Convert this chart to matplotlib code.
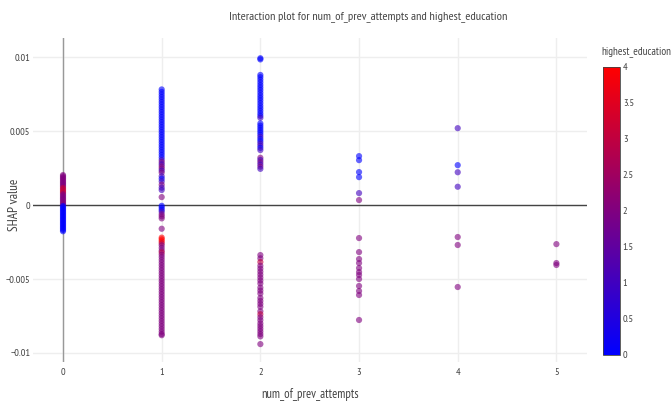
import matplotlib
matplotlib.use("Agg")
import matplotlib.pyplot as plt
from matplotlib.colors import LinearSegmentedColormap
import numpy as np

plt.rcParams['font.family'] = ['PT Sans Narrow', 'DejaVu Sans']

# SHAP values and highest_education per num_of_prev_attempts column
col0_shap = [0.00203, 0.00195, 0.00186, 0.00178, 0.00169, 0.00160, 0.00151, 0.00143, 0.00134,
             0.00125, 0.00116, 0.00108, 0.00099, 0.00090, 0.00082, 0.00073, 0.00064, 0.00055,
             0.00046, 0.00038, 0.00029, 0.00020, 0.00011, 0.00003,
             -0.00006, -0.00015, -0.00024, -0.00033, -0.00042, -0.00051, -0.00060, -0.00069,
             -0.00078, -0.00087, -0.00096, -0.00105, -0.00114, -0.00123, -0.00132, -0.00141,
             -0.00150, -0.00159, -0.00168, -0.00177]
col0_edu = [2, 2, 2, 2, 2, 2, 2, 2, 2,
            2, 3, 3, 3, 3, 3, 2, 2, 2,
            2, 2, 2, 2, 2, 2,
            0, 0, 0, 0, 0, 0, 0, 0,
            0, 0, 0, 0, 0, 0, 0, 0,
            0, 0, 0, 0]

col1_shap = [0.00782, 0.00765, 0.00748, 0.00731, 0.00714, 0.00697, 0.00680, 0.00663, 0.00646,
             0.00629, 0.00612, 0.00595, 0.00578, 0.00561, 0.00544, 0.00527, 0.00510, 0.00493,
             0.00476, 0.00459, 0.00442, 0.00425, 0.00408, 0.00391, 0.00374, 0.00357, 0.00340,
             0.00322, 0.00305, 0.00290, 0.00276, 0.00262, 0.00248, 0.00234, 0.00220,
             0.00195, 0.00178, 0.00160, 0.00138, 0.00118, 0.00102, 0.00054,
             -0.00005, -0.00018, -0.00032, -0.00045, -0.00062, -0.00076, -0.00090, -0.00160,
             -0.00220, -0.00232, -0.00245, -0.00258, -0.00272, -0.00290, -0.00308, -0.00320,
             -0.00335, -0.00352, -0.00370, -0.00388, -0.00406, -0.00424, -0.00442, -0.00460,
             -0.00478, -0.00496, -0.00514, -0.00532, -0.00550, -0.00568, -0.00586, -0.00604,
             -0.00622, -0.00640, -0.00658, -0.00676, -0.00694, -0.00712, -0.00730, -0.00748,
             -0.00766, -0.00784, -0.00802, -0.00820, -0.00838, -0.00856, -0.00872, -0.00880]
col1_edu = [0, 0, 0, 0, 0, 0, 0, 0, 0,
            0, 0, 0, 0, 0, 0, 0, 0, 0,
            0, 0, 0, 0, 0, 0, 0, 0, 0,
            0, 1, 2, 1, 2, 2, 1, 2,
            1, 0, 1, 2, 1, 1, 2,
            0, 0, 0, 1, 2, 2, 2, 2,
            4, 4, 4, 3, 2, 2, 2, 3,
            2, 2, 2, 2, 2, 2, 2, 2,
            2, 2, 2, 2, 2, 2, 2, 2,
            2, 2, 2, 2, 2, 2, 2, 2,
            2, 2, 2, 2, 2, 2, 2, 2]

col2_shap = [0.00993, 0.00985, 0.00880, 0.00865, 0.00848, 0.00830, 0.00812, 0.00795, 0.00778,
             0.00760, 0.00742, 0.00725, 0.00708, 0.00690, 0.00672, 0.00655, 0.00638, 0.00620,
             0.00604, 0.00590, 0.00552, 0.00537, 0.00522, 0.00507, 0.00492, 0.00477, 0.00462,
             0.00447, 0.00432, 0.00417, 0.00402, 0.00387, 0.00372, 0.00320, 0.00305, 0.00290,
             0.00275, 0.00260, 0.00245,
             -0.00338, -0.00360, -0.00385, -0.00410, -0.00430, -0.00450, -0.00470, -0.00490,
             -0.00510, -0.00530, -0.00558, -0.00578, -0.00598, -0.00628, -0.00648, -0.00668,
             -0.00688, -0.00718, -0.00738, -0.00758, -0.00778, -0.00800, -0.00818, -0.00836,
             -0.00854, -0.00872, -0.00888, -0.00940]
col2_edu = [0, 0, 0, 0, 0, 0, 0, 0, 0,
            0, 0, 0, 0, 0, 0, 0, 0, 0,
            0, 1, 0, 0, 0, 0, 0, 0, 1,
            0, 0, 1, 1, 0, 1, 2, 1, 2,
            1, 2, 1,
            2, 2, 3, 2, 2, 2, 2, 2,
            2, 2, 2, 2, 2, 2, 2, 2,
            2, 2, 3, 2, 2, 2, 2, 2,
            2, 2, 2, 2]

col3_shap = [0.00331, 0.00304, 0.00223, 0.00189, 0.00081, 0.00034,
             -0.00223, -0.00318, -0.00365, -0.00392, -0.00426, -0.00453, -0.00473,
             -0.00500, -0.00547, -0.00581, -0.00608, -0.00777]
col3_edu = [0, 0, 0, 0, 1, 2,
            2, 2, 2, 2, 2, 2, 2,
            2, 2, 2, 2, 2]

col4_shap = [0.00520, 0.00270, 0.00222, 0.00124, -0.00216, -0.00270, -0.00554]
col4_edu = [1, 0, 1, 1, 2, 2, 2]

col5_shap = [-0.00264, -0.00392, -0.00405]
col5_edu = [2, 2, 2]

attempts = [0, 1, 2, 3, 4, 5]
shap_cols = [col0_shap, col1_shap, col2_shap, col3_shap, col4_shap, col5_shap]
edu_cols = [col0_edu, col1_edu, col2_edu, col3_edu, col4_edu, col5_edu]
y_ticks = [-0.01, -0.005, 0, 0.005, 0.01]
y_ticklabels = ["\u22120.01", "\u22120.005", "0", "0.005", "0.01"]
cb_ticks = [0, 0.5, 1, 1.5, 2, 2.5, 3, 3.5, 4]
cb_ticklabels = ["0", "0.5", "1", "1.5", "2", "2.5", "3", "3.5", "4"]

x = np.concatenate([[a] * len(s) for a, s in zip(attempts, shap_cols)])
y = np.concatenate(shap_cols)
c = np.concatenate(edu_cols)

cmap = LinearSegmentedColormap.from_list("bluered", ["#0000ff", "#ff0000"])
txt = "#444444"

fig = plt.figure(figsize=(6.71, 4.04), dpi=100)
ax = fig.add_axes([0.0492, 0.104, 0.8256, 0.802])

ax.axhline(0, color="#444444", lw=1, zorder=1)
ax.axvline(0, color="#999999", lw=1, zorder=1)
sc = ax.scatter(x, y, c=c, cmap=cmap, vmin=0, vmax=4, s=20, alpha=0.6,
                edgecolors="none", zorder=2)

ax.set_xlim(-0.304, 5.31)
ax.set_ylim(-0.01061, 0.0113)
ax.set_xticks(attempts)
ax.set_yticks(y_ticks)
ax.set_yticklabels(y_ticklabels)
ax.grid(True, color="#eeeeee", lw=1, zorder=0)
ax.set_axisbelow(True)
for sp in ax.spines.values():
    sp.set_visible(False)
ax.tick_params(length=0, labelsize=7.5, colors=txt)
ax.tick_params(axis="y", pad=2)
ax.tick_params(axis="x", pad=4)

ax.set_xlabel("num_of_prev_attempts", fontsize=9, color=txt, labelpad=8)
ax.set_ylabel("SHAP value", fontsize=9.5, color=txt)
ax.yaxis.set_label_coords(-0.022, 0.485)
fig.text(0.548, 0.96, "Interaction plot for num_of_prev_attempts and highest_education",
         ha="center", va="center", fontsize=8.8, color=txt)

cax = fig.add_axes([0.8987, 0.1213, 0.0253, 0.713])
cb = fig.colorbar(sc, cax=cax)
cb.solids.set_alpha(1)
cb.set_ticks(cb_ticks)
cb.set_ticklabels(cb_ticklabels)
cb.outline.set_edgecolor("#444444")
cb.outline.set_linewidth(0.6)
cax.tick_params(length=0, labelsize=7.5, colors=txt, pad=2)
fig.text(0.8957, 0.872, "highest_education", ha="left", va="center",
         fontsize=8, color=txt)

fig.savefig("out.png", dpi=100)
